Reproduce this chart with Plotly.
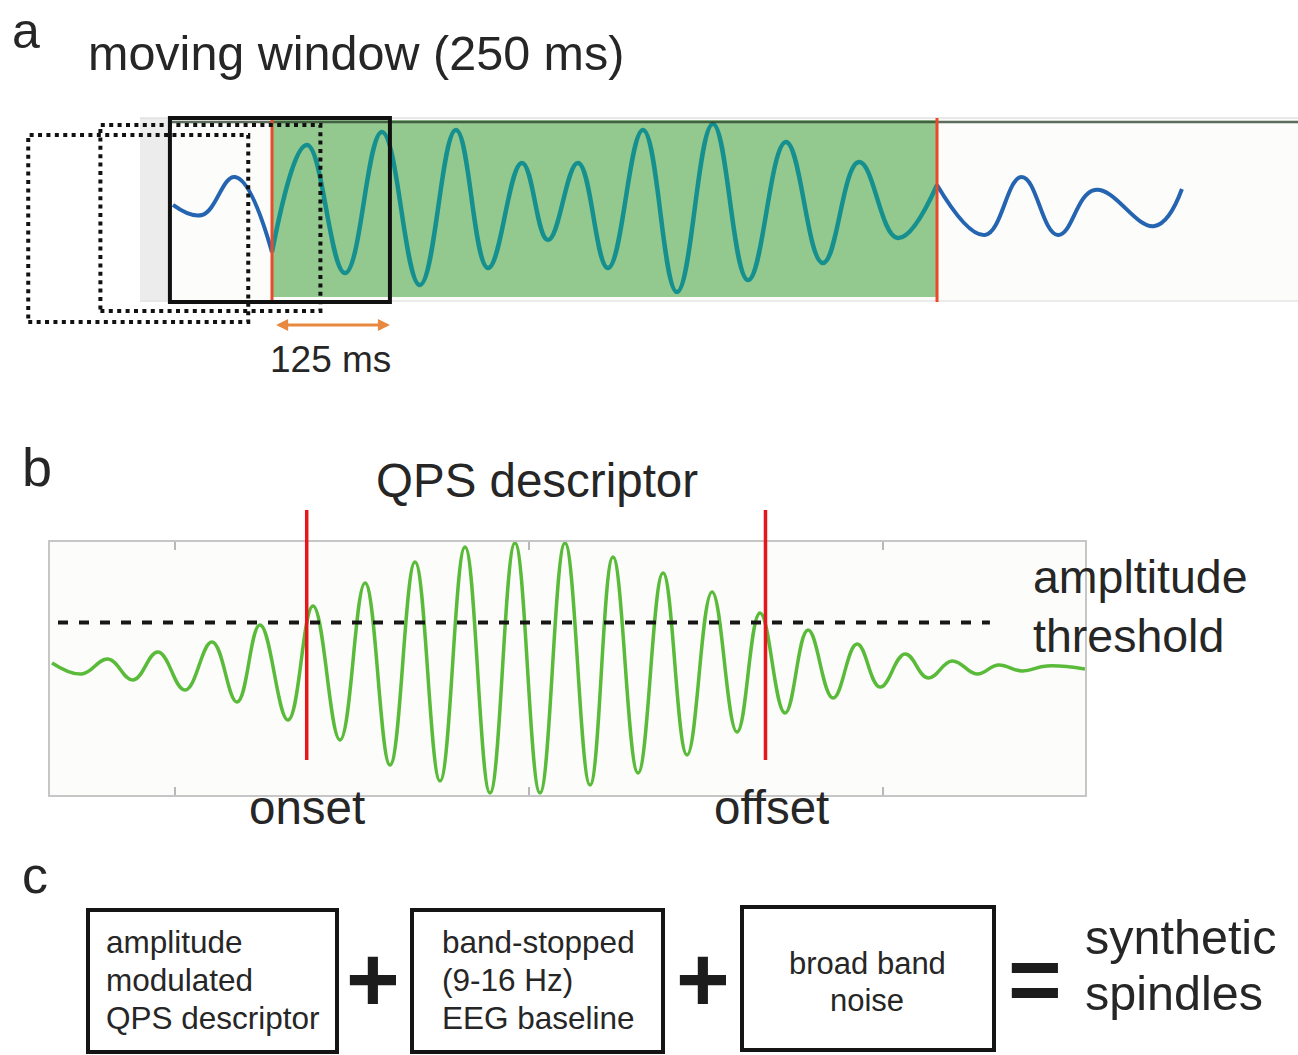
import plotly.graph_objects as go

W, H = 1298, 1055
FONT = "Liberation Sans, Arial, Helvetica, sans-serif"
TXT = "#262626"

# ---------------- Panel a data (time in ms, amplitude in a.u.) ----------------
a_pre_t = [37.5, 70.5, 108.0, 150.0]
a_pre_v = [3.3, -7.6, 33.7, -48.0]
a_spindle_t = [150.0, 189.8, 233.0, 275.0, 318.0, 359.0, 395.5, 434.0, 463.6, 497.7,
               531.8, 571.6, 610.2, 651.0, 691.0, 734.0, 776.0, 817.0, 861.0, 905.7]
a_spindle_v = [-48.0, 68.5, -70.7, 82.6, -83.7, 84.8, -65.2, 48.9, -34.8, 48.9,
               -65.2, 84.8, -91.3, 91.3, -78.3, 71.7, -59.8, 50.0, -32.6, 25.0]
a_post_t = [905.7, 960.0, 1002.0, 1043.0, 1085.0, 1153.0, 1184.0]
a_post_v = [25.0, -29.3, 33.7, -29.3, 19.6, -19.6, 20.7]
a_onset_ms = 150.0
a_offset_ms = 905.7
window_starts_ms = [-127, -45, 34]
window_len_ms = 250
hop_label = "125 ms"

# ---------------- Panel b data (time in ms, amplitude in a.u.) ----------------
b_t = [326.3, 368.2, 405.4, 440.7, 476.0, 514.1, 552.3, 587.6, 620.0, 659.6,
       694.9, 733.0, 768.4, 803.7, 839.0, 874.3, 909.6, 944.9, 980.2, 1015.5,
       1050.8, 1086.2, 1118.6, 1154.0, 1189.3, 1223.2, 1258.5, 1293.8, 1326.3, 1361.6,
       1394.1, 1429.4, 1463.3, 1495.8, 1531.1, 1563.6, 1597.5, 1632.8, 1662.4, 1696.3,
       1731.6, 1785.3]
b_v = [1.0, -4.5, 3.0, -7.5, 6.5, -12.5, 11.5, -18.5, 20.0, -27.5,
       29.5, -37.5, 41.0, -50.0, 51.5, -58.0, 59.0, -64.0, 61.0, -64.0,
       61.0, -60.0, 54.0, -54.0, 46.0, -45.0, 36.5, -33.5, 26.0, -24.0,
       17.5, -16.5, 10.5, -11.0, 5.5, -6.5, 2.0, -4.5, 0.0, -3.0,
       -0.5, -2.0]
b_threshold = 21.2
b_threshold_span = [334.7, 1651.0]
b_onset_ms = 686.0
b_offset_ms = 1334.0
b_ticks_ms = [500, 1000, 1500]

# ---------------- Panel c text ----------------
c_boxes = [["amplitude", "modulated", "QPS descriptor"],
           ["band-stopped", "(9-16 Hz)", "EEG baseline"],
           ["broad band", "noise"]]
c_operators = ["+", "+", "="]
c_result = ["synthetic", "spindles"]

BLUE = "#2464b0"
TEAL = "#16908f"
GREEN_FILL = "#93c98f"
RED_A = "#e84a2a"
ORANGE = "#e8893f"
GREEN_B = "#5abb3a"
RED_B = "#e5161c"


def px(x):
    return x / W


def py(y):
    return 1 - y / H


fig = go.Figure()

# panel a traces
fig.add_trace(go.Scatter(x=a_pre_t, y=a_pre_v, mode="lines", xaxis="x", yaxis="y",
                         line=dict(color=BLUE, width=4, shape="spline", smoothing=1.2),
                         hoverinfo="skip"))
fig.add_trace(go.Scatter(x=a_spindle_t, y=a_spindle_v, mode="lines", xaxis="x", yaxis="y",
                         line=dict(color=TEAL, width=4.5, shape="spline", smoothing=1.2),
                         hoverinfo="skip"))
fig.add_trace(go.Scatter(x=a_post_t, y=a_post_v, mode="lines", xaxis="x", yaxis="y",
                         line=dict(color=BLUE, width=4, shape="spline", smoothing=1.2),
                         hoverinfo="skip"))

# panel b traces
fig.add_trace(go.Scatter(x=b_t, y=b_v, mode="lines", xaxis="x2", yaxis="y2",
                         line=dict(color=GREEN_B, width=3.5, shape="spline", smoothing=1.2),
                         hoverinfo="skip"))
fig.add_trace(go.Scatter(x=b_threshold_span, y=[b_threshold, b_threshold], mode="lines",
                         xaxis="x2", yaxis="y2",
                         line=dict(color="#161616", width=4, dash="10px,11px"),
                         hoverinfo="skip"))

shapes = []
# panel b background
shapes.append(dict(type="rect", xref="paper", yref="paper", x0=px(50), x1=px(1085),
                   y0=py(795), y1=py(542), fillcolor="#fcfcfa", line=dict(width=0), layer="below"))
# panel a background band
shapes.append(dict(type="rect", xref="paper", yref="paper", x0=px(140), x1=px(1298),
                   y0=py(302), y1=py(118), fillcolor="#fcfcfa", line=dict(width=0), layer="below"))
shapes.append(dict(type="rect", xref="paper", yref="paper", x0=px(140), x1=px(170),
                   y0=py(302), y1=py(118), fillcolor="#ececec", line=dict(width=0), layer="below"))
shapes.append(dict(type="line", xref="paper", yref="paper", x0=px(140), x1=px(1298),
                   y0=py(118), y1=py(118), line=dict(color="#e2e2e2", width=1.5), layer="below"))
shapes.append(dict(type="line", xref="paper", yref="paper", x0=px(140), x1=px(1298),
                   y0=py(301), y1=py(301), line=dict(color="#e6e6e6", width=1.5), layer="below"))
# detected spindle region
shapes.append(dict(type="rect", xref="x", yref="paper", x0=a_onset_ms, x1=a_offset_ms,
                   y0=py(297), y1=py(120), fillcolor=GREEN_FILL, line=dict(width=0), layer="below"))
shapes.append(dict(type="line", xref="paper", yref="paper", x0=px(170), x1=px(1298),
                   y0=py(122), y1=py(122), line=dict(color="rgba(40,60,40,0.75)", width=2.5),
                   layer="above"))
# onset / offset lines panel a
for t in (a_onset_ms, a_offset_ms):
    shapes.append(dict(type="line", xref="x", yref="paper", x0=t, x1=t,
                       y0=py(302), y1=py(118), line=dict(color=RED_A, width=3), layer="above"))
# moving windows (dotted earlier, solid current)
win_y = [(135, 322), (125, 311), (118, 302)]
for i, s in enumerate(window_starts_ms):
    top, bot = win_y[i]
    last = i == len(window_starts_ms) - 1
    shapes.append(dict(type="rect", xref="x", yref="paper", x0=s, x1=s + window_len_ms,
                       y0=py(bot), y1=py(top), fillcolor="rgba(0,0,0,0)",
                       line=dict(color="#111111", width=4, dash="solid" if last else "4px,4.4px"),
                       layer="above"))

# panel b onset/offset lines
for t in (b_onset_ms, b_offset_ms):
    shapes.append(dict(type="line", xref="x2", yref="paper", x0=t, x1=t,
                       y0=py(760), y1=py(510), line=dict(color=RED_B, width=3.5), layer="above"))

# panel c boxes
c_box_px = [(88, 337, 910, 1052), (412, 663, 910, 1052), (742, 994, 907, 1050)]
for (x0, x1, y0, y1) in c_box_px:
    shapes.append(dict(type="rect", xref="paper", yref="paper", x0=px(x0), x1=px(x1),
                       y0=py(y1), y1=py(y0), line=dict(color="#151515", width=4),
                       fillcolor="rgba(0,0,0,0)"))

ann = []


def txt(x, y, s, size, xanchor="left", color=TXT, bold=False):
    ann.append(dict(xref="paper", yref="paper", x=px(x), y=py(y), text=("<b>%s</b>" % s) if bold else s,
                    showarrow=False, xanchor=xanchor, yanchor="middle",
                    font=dict(family=FONT, size=size, color=color)))


# panel labels and titles
txt(10, 31, "a", 50)
txt(86, 53, "moving window (250 ms)", 48.5)
txt(330, 360, hop_label, 37, xanchor="center")
txt(20, 467, "b", 54)
txt(537, 481, "QPS descriptor", 47.5, xanchor="center")
txt(1031, 577, "ampltitude", 46.5)
txt(1031, 636, "threshold", 46.5)
txt(20, 875, "c", 52)

# hop arrow
ann.append(dict(xref="x", yref="paper", x=window_starts_ms[-1] + window_len_ms, y=py(325),
                axref="x", ayref="pixel", ax=a_onset_ms + 3, ay=0, text="", showarrow=True,
                arrowhead=2, arrowside="end+start", arrowsize=0.8, arrowwidth=3, arrowcolor=ORANGE))

# onset / offset labels
ann.append(dict(xref="x2", yref="paper", x=b_onset_ms, y=py(807), text="onset", showarrow=False,
                xanchor="center", yanchor="middle", font=dict(family=FONT, size=47.5, color=TXT)))
ann.append(dict(xref="x2", yref="paper", x=b_offset_ms + 8, y=py(807), text="offset", showarrow=False,
                xanchor="center", yanchor="middle", font=dict(family=FONT, size=47.5, color=TXT)))

# panel c texts
line_y = [942, 980, 1018]
for i, s in enumerate(c_boxes[0]):
    txt(104, line_y[i], s, 31.5)
for i, s in enumerate(c_boxes[1]):
    txt(440, line_y[i], s, 31.5)
for i, s in enumerate(c_boxes[2]):
    txt(867, [963, 1000][i], s, 31, xanchor="center")
op_x = [373, 703, 1035]
for i, s in enumerate(c_operators):
    txt(op_x[i], 979, s, 92, xanchor="center", color="#1c1c1c", bold=True)
txt(1083, 937, c_result[0], 48.5)
txt(1083, 993, c_result[1], 48.5)

fig.update_layout(
    width=W, height=H, margin=dict(l=0, r=0, t=0, b=0),
    paper_bgcolor="white", plot_bgcolor="rgba(0,0,0,0)", showlegend=False,
    shapes=shapes, annotations=ann,
    xaxis=dict(domain=[0, 1], range=[(0 - 140) / 0.88, (1298 - 140) / 0.88], visible=False,
               fixedrange=True),
    yaxis=dict(domain=[py(302), py(118)], range=[(208 - 302) / 0.92, (208 - 118) / 0.92],
               visible=False, fixedrange=True),
    xaxis2=dict(domain=[px(50), px(1085)], range=[323.4, 1785.3], anchor="y2",
                showline=True, mirror="ticks", linecolor="#c6c6c6", linewidth=1.5,
                ticks="inside", tickvals=b_ticks_ms, ticklen=8, tickwidth=1.5, tickcolor="#b8b8b8",
                showticklabels=False, showgrid=False, zeroline=False, fixedrange=True),
    yaxis2=dict(domain=[py(795), py(542)], range=[-65, 61.5], anchor="x2",
                showline=True, mirror=True, linecolor="#c6c6c6", linewidth=1.5,
                ticks="", showticklabels=False, showgrid=False, zeroline=False, fixedrange=True),
)

fig.write_html("out.html")
